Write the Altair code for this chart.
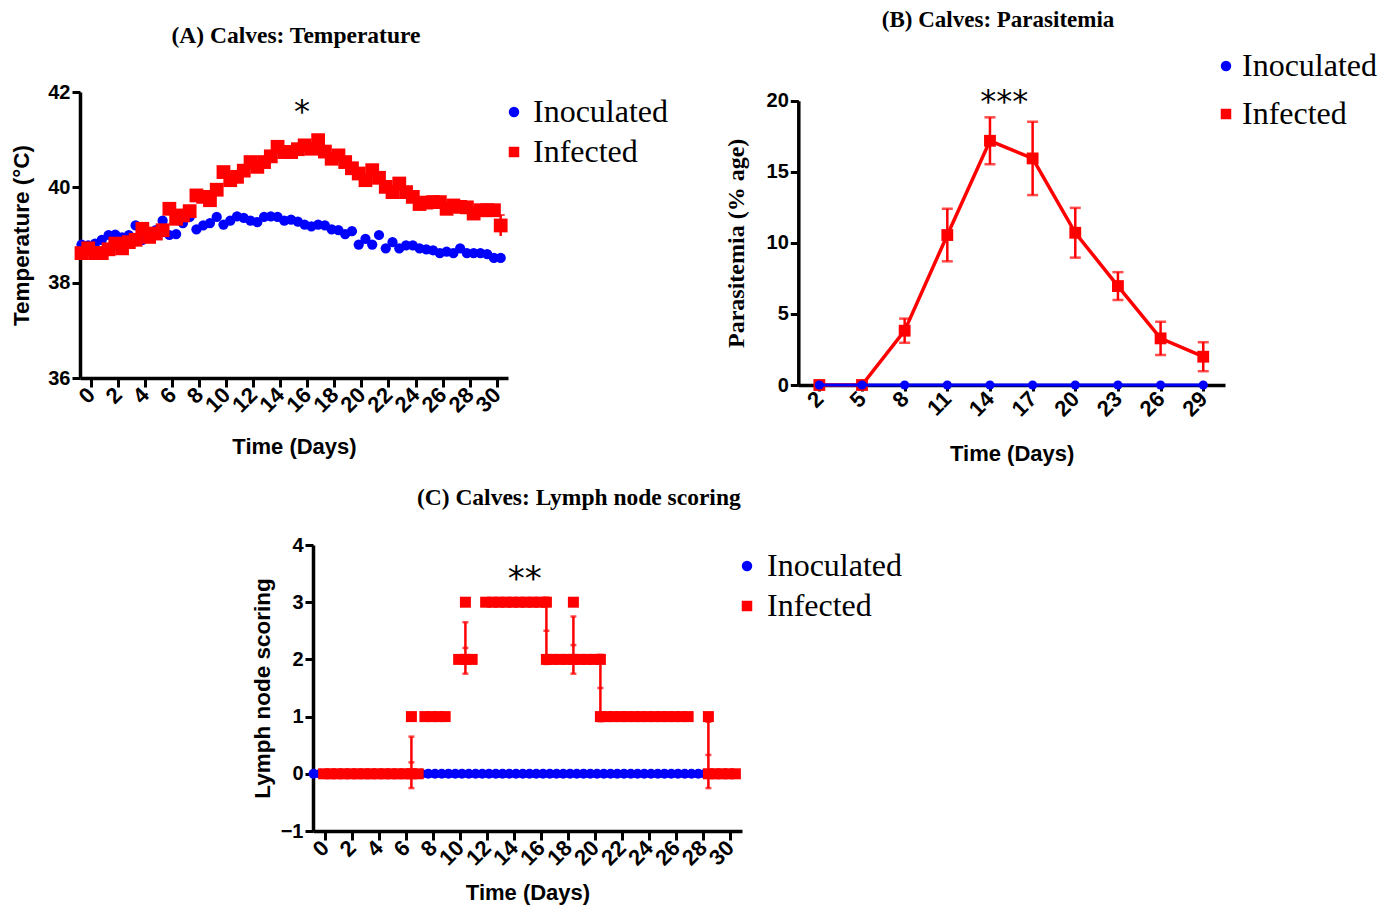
import altair as alt
import pandas as pd

# ---------------------------------------------------------------- data
GROUPS = ["Inoculated", "Infected"]
COLORS = ["#0000ff", "#ff0000"]
SHAPES = ["circle", "square"]

# (A) temperature, readings twice a day
DAYS_A = [-0.7, -0.2, 0.3, 0.8, 1.3, 1.8, 2.3, 2.8, 3.3, 3.8,
          4.3, 4.8, 5.3, 5.8, 6.3, 6.8, 7.3, 7.8, 8.3, 8.8,
          9.3, 9.8, 10.3, 10.8, 11.3, 11.8, 12.3, 12.8, 13.3, 13.8,
          14.3, 14.8, 15.3, 15.8, 16.3, 16.8, 17.3, 17.8, 18.3, 18.8,
          19.3, 19.8, 20.3, 20.8, 21.3, 21.8, 22.3, 22.8, 23.3, 23.8,
          24.3, 24.8, 25.3, 25.8, 26.3, 26.8, 27.3, 27.8, 28.3, 28.8,
          29.3, 29.8, 30.3]
TEMP_INOCULATED = [38.80, 38.78, 38.82, 38.90, 39.00, 39.01, 38.95, 39.00, 39.20, 38.90,
                   39.05, 39.10, 39.30, 39.00, 39.02, 39.25, 39.38, 39.12, 39.20, 39.25,
                   39.38, 39.22, 39.30, 39.39, 39.36, 39.30, 39.27, 39.38, 39.39, 39.38,
                   39.30, 39.32, 39.28, 39.22, 39.18, 39.22, 39.20, 39.12, 39.10, 39.02,
                   39.08, 38.80, 38.92, 38.80, 39.00, 38.72, 38.85, 38.72, 38.78, 38.78,
                   38.72, 38.70, 38.68, 38.62, 38.65, 38.62, 38.72, 38.62, 38.62, 38.62,
                   38.60, 38.52, 38.52]
TEMP_INFECTED = [38.62, 38.72, 38.62, 38.62, 38.70, 38.82, 38.72, 38.85, 38.90, 39.13,
                 38.96, 39.03, 39.10, 39.55, 39.34, 39.41, 39.50, 39.83, 39.80, 39.73,
                 39.95, 40.32, 40.15, 40.22, 40.35, 40.53, 40.43, 40.53, 40.65, 40.85,
                 40.74, 40.74, 40.80, 40.88, 40.81, 40.99, 40.75, 40.60, 40.67, 40.53,
                 40.40, 40.29, 40.15, 40.36, 40.20, 40.01, 39.90, 40.08, 39.90, 39.80,
                 39.65, 39.68, 39.69, 39.69, 39.55, 39.62, 39.59, 39.58, 39.45, 39.52,
                 39.52, 39.52, 39.20]
ERR_DAY_A = [30.3]
ERR_MEAN_A = [39.20]
ERR_SEM_A = [0.22]

# (B) parasitemia
DAYS_B = [2, 5, 8, 11, 14, 17, 20, 23, 26, 29]
PARA_INOCULATED = [0, 0, 0, 0, 0, 0, 0, 0, 0, 0]
PARA_INFECTED = [0, 0, 3.82, 10.55, 17.18, 15.94, 10.71, 6.96, 3.28, 1.99]
PARA_SEM = [0, 0, 0.85, 1.85, 1.65, 2.58, 1.75, 0.98, 1.17, 1.02]

# (C) lymph node scoring
DAYS_C_INOC = [-0.85, -0.35, 0.15, 0.65, 1.15, 1.65, 2.15, 2.65, 3.15, 3.65,
               4.15, 4.65, 5.15, 5.65, 6.15, 6.65, 7.15, 7.65, 8.15, 8.65,
               9.15, 9.65, 10.15, 10.65, 11.15, 11.65, 12.15, 12.65, 13.15, 13.65,
               14.15, 14.65, 15.15, 15.65, 16.15, 16.65, 17.15, 17.65, 18.15, 18.65,
               19.15, 19.65, 20.15, 20.65, 21.15, 21.65, 22.15, 22.65, 23.15, 23.65,
               24.15, 24.65, 25.15, 25.65, 26.15, 26.65, 27.15, 27.65, 28.15, 28.65,
               29.15, 29.65, 30.15]
SCORE_C_INOC = [0, 0, 0, 0, 0, 0, 0, 0, 0, 0,
                0, 0, 0, 0, 0, 0, 0, 0, 0, 0,
                0, 0, 0, 0, 0, 0, 0, 0, 0, 0,
                0, 0, 0, 0, 0, 0, 0, 0, 0, 0,
                0, 0, 0, 0, 0, 0, 0, 0, 0, 0,
                0, 0, 0, 0, 0, 0, 0, 0, 0, 0,
                0, 0, 0]
DAYS_C_INF = [-0.1, 0.4, 0.9, 1.4, 1.9, 2.4, 2.9, 3.4, 3.9, 4.4, 4.9, 5.4, 5.9, 6.4, 6.9,
              6.4, 7.4, 7.9, 8.4, 8.9,
              9.9, 10.4, 10.9,
              10.4, 11.9, 12.4, 12.9, 13.4, 13.9, 14.4, 14.9, 15.4, 15.9, 16.4,
              18.4,
              16.4, 16.9, 17.4, 17.9, 18.4, 18.9, 19.4, 19.9, 20.4,
              20.4, 20.9, 21.4, 21.9, 22.4, 22.9, 23.4, 23.9, 24.4, 24.9, 25.4, 25.9, 26.4, 26.9,
              28.4,
              28.4, 28.9, 29.4, 29.9, 30.4]
SCORE_C_INF = [0, 0, 0, 0, 0, 0, 0, 0, 0, 0, 0, 0, 0, 0, 0,
               1, 1, 1, 1, 1,
               2, 2, 2,
               3, 3, 3, 3, 3, 3, 3, 3, 3, 3, 3,
               3,
               2, 2, 2, 2, 2, 2, 2, 2, 2,
               1, 1, 1, 1, 1, 1, 1, 1, 1, 1, 1, 1, 1, 1,
               1,
               0, 0, 0, 0, 0]
ERR_DAY_C = [6.4, 10.4, 16.4, 18.4, 20.4, 28.4]
ERR_MEAN_C = [0.2, 2.2, 2.5, 2.25, 1.5, 0.33]
ERR_SD_C = [0.45, 0.45, 0.58, 0.5, 0.58, 0.58]

# ---------------------------------------------------------------- layout (canvas pixels)
W, H = 1375, 897
SANS = "Liberation Sans"
SERIF = "Liberation Serif"
STAR = "DejaVu Sans"

XD_A, XR_A, YD_A, YR_A = [-0.81, 30.84], [72, 500], [36, 42], [370, 84]
XD_B, XR_B, YD_B, YR_B = [0.52, 30.53], [790.3, 1217], [0, 20], [377, 92.7]
XD_C, XR_C, YD_C, YR_C = [-0.89, 30.89], [305, 734], [-1, 4], [823, 537]


def x_axis(offset, values, tick_size, label_size, title_pad):
    return alt.Axis(orient="bottom", offset=offset, values=values, title="Time (Days)",
                    grid=False, labelAngle=-45, labelAlign="right", labelBaseline="middle",
                    labelFont=SANS, labelFontWeight="bold", labelFontSize=label_size,
                    labelColor="black", labelPadding=4, labelFlush=False, labelOverlap=False,
                    tickSize=tick_size, tickWidth=3, tickColor="black",
                    domainColor="black", domainWidth=3.5,
                    titleFont=SANS, titleFontWeight="bold", titleFontSize=22,
                    titleColor="black", titlePadding=title_pad)


def y_axis(offset, values, title, font, size, label_size, pad):
    return alt.Axis(orient="left", offset=offset, values=values, title=title, grid=False,
                    labelFont=SANS, labelFontWeight="bold", labelFontSize=label_size,
                    labelColor="black", labelPadding=2, labelFlush=False, labelOverlap=False,
                    tickSize=8, tickWidth=3, tickColor="black",
                    domainColor="black", domainWidth=3.5,
                    titleFont=font, titleFontWeight="bold", titleFontSize=size,
                    titleColor="black", titlePadding=pad)


def legend(x, y, row_pad, label_offset):
    return alt.Legend(orient="none", legendX=x, legendY=y, title=None, padding=0,
                      labelFont=SERIF, labelFontSize=32, labelColor="black",
                      symbolSize=110, symbolStrokeWidth=0, rowPadding=row_pad,
                      labelOffset=label_offset)


def enc_color(leg):
    return alt.Color("group:N", scale=alt.Scale(domain=GROUPS, range=COLORS), legend=leg)


def enc_shape(leg):
    return alt.Shape("group:N", scale=alt.Scale(domain=GROUPS, range=SHAPES), legend=leg)


def sc(domain, rng):
    return alt.Scale(domain=domain, range=rng, nice=False, zero=False)


TITLE_SIZE = 23.5

# ---------------------------------------------------------------- panel A
axA_x = x_axis(370 - H, list(range(0, 31, 2)), 9, 22, 20)
axA_y = y_axis(-72, [36, 38, 40, 42], "Temperature (°C)", SANS, 22.5, 20, 14)
legA = legend(490, 88, 8, 3)

dfA = pd.DataFrame({
    "day": DAYS_A + DAYS_A,
    "value": TEMP_INOCULATED + TEMP_INFECTED,
    "group": [GROUPS[0]] * len(DAYS_A) + [GROUPS[1]] * len(DAYS_A),
})
dfA_err = pd.DataFrame({"day": ERR_DAY_A,
                        "lo": [m - s for m, s in zip(ERR_MEAN_A, ERR_SEM_A)],
                        "hi": [m + s for m, s in zip(ERR_MEAN_A, ERR_SEM_A)]})
dfA_txt = pd.DataFrame({"day": [15.16, 15.6], "value": [43.17, 41.37],
                        "text": ["(A) Calves: Temperature", "*"]})

xA = lambda f="day": alt.X(f"{f}:Q", scale=sc(XD_A, XR_A), axis=axA_x)
yA = lambda f="value": alt.Y(f"{f}:Q", scale=sc(YD_A, YR_A), axis=axA_y)

baseA = alt.Chart(dfA)
pointsA_blue = baseA.mark_point(filled=True, size=105, opacity=1).encode(
    x=xA(), y=yA(), color=enc_color(legA), shape=enc_shape(legA)
).transform_filter(alt.datum.group == GROUPS[0])
pointsA_red = baseA.mark_point(filled=True, size=190, opacity=1).encode(
    x=xA(), y=yA(), color=enc_color(legA), shape=enc_shape(legA)
).transform_filter(alt.datum.group == GROUPS[1])
errA_rule = alt.Chart(dfA_err).mark_rule(color="#ff0000", strokeWidth=2.5).encode(
    x=xA(), y=yA("lo"), y2="hi")
errA_cap = alt.Chart(dfA_err).mark_tick(color="#ff0000", orient="horizontal", size=8,
                                        thickness=2).encode(x=xA(), y=yA("hi"))
titleA = alt.Chart(dfA_txt.iloc[[0]]).mark_text(
    font=SERIF, fontWeight="bold", fontSize=TITLE_SIZE, color="black", baseline="middle"
).encode(x=xA(), y=yA(), text="text:N")
starA = alt.Chart(dfA_txt.iloc[[1]]).mark_text(
    font=STAR, fontSize=32, color="black", baseline="alphabetic"
).encode(x=xA(), y=yA(), text="text:N")

panelA = alt.layer(pointsA_blue, pointsA_red, errA_rule, errA_cap, titleA, starA)

# ---------------------------------------------------------------- panel B
axB_x = x_axis(377 - H, DAYS_B, 6, 22, 23)
axB_y = y_axis(-790.3, [0, 5, 10, 15, 20], "Parasitemia  (% age)", SERIF, 24, 20, 18)
legB = legend(1202, 42, 16, 0)

dfB = pd.DataFrame({
    "day": DAYS_B + DAYS_B,
    "value": PARA_INOCULATED + PARA_INFECTED,
    "group": [GROUPS[0]] * len(DAYS_B) + [GROUPS[1]] * len(DAYS_B),
})
dfB_err = pd.DataFrame({"day": DAYS_B,
                        "lo": [m - s for m, s in zip(PARA_INFECTED, PARA_SEM)],
                        "hi": [m + s for m, s in zip(PARA_INFECTED, PARA_SEM)]})
dfB_err = dfB_err[[s > 0 for s in PARA_SEM]]
dfB_txt = pd.DataFrame({"day": [14.57, 15.0], "value": [26.45, 19.2],
                        "text": ["(B) Calves: Parasitemia", "***"]})

xB = lambda f="day": alt.X(f"{f}:Q", scale=sc(XD_B, XR_B), axis=axB_x)
yB = lambda f="value": alt.Y(f"{f}:Q", scale=sc(YD_B, YR_B), axis=axB_y)

baseB = alt.Chart(dfB)
lineB_red = baseB.mark_line(color="#ff0000", strokeWidth=3.5).encode(
    x=xB(), y=yB()).transform_filter(alt.datum.group == GROUPS[1])
errB_rule = alt.Chart(dfB_err).mark_rule(color="#ff0000", strokeWidth=2.5).encode(
    x=xB(), y=yB("lo"), y2="hi")
errB_lo = alt.Chart(dfB_err).mark_tick(color="#ff0000", orient="horizontal", size=11,
                                       thickness=2.5).encode(x=xB(), y=yB("lo"))
errB_hi = alt.Chart(dfB_err).mark_tick(color="#ff0000", orient="horizontal", size=11,
                                       thickness=2.5).encode(x=xB(), y=yB("hi"))
pointsB_red = baseB.mark_point(filled=True, size=140, opacity=1).encode(
    x=xB(), y=yB(), color=enc_color(legB), shape=enc_shape(legB)
).transform_filter(alt.datum.group == GROUPS[1])
lineB_blue = baseB.mark_line(color="#0000ff", strokeWidth=3).encode(
    x=xB(), y=yB()).transform_filter(alt.datum.group == GROUPS[0])
pointsB_blue = baseB.mark_point(filled=True, size=85, opacity=1).encode(
    x=xB(), y=yB(), color=enc_color(legB), shape=enc_shape(legB)
).transform_filter(alt.datum.group == GROUPS[0])
titleB = alt.Chart(dfB_txt.iloc[[0]]).mark_text(
    font=SERIF, fontWeight="bold", fontSize=23, color="black", baseline="top"
).encode(x=xB(), y=yB(), text="text:N")
starB = alt.Chart(dfB_txt.iloc[[1]]).mark_text(
    font=STAR, fontSize=32, color="black", baseline="alphabetic"
).encode(x=xB(), y=yB(), text="text:N")

panelB = alt.layer(lineB_red, errB_rule, errB_lo, errB_hi, pointsB_red,
                   lineB_blue, pointsB_blue, titleB, starB)

# ---------------------------------------------------------------- panel C
axC_x = x_axis(823 - H, list(range(0, 31, 2)), 9, 22, 13)
axC_y = y_axis(-305, [-1, 0, 1, 2, 3, 4], "Lymph node scoring", SANS, 22.5, 20, 6)
legC = legend(723, 542, 8, 4)

dfC = pd.DataFrame({
    "day": DAYS_C_INOC + DAYS_C_INF,
    "value": SCORE_C_INOC + SCORE_C_INF,
    "group": [GROUPS[0]] * len(DAYS_C_INOC) + [GROUPS[1]] * len(DAYS_C_INF),
})
dfC_err = pd.DataFrame({"day": ERR_DAY_C, "value": ERR_MEAN_C,
                        "lo": [m - s for m, s in zip(ERR_MEAN_C, ERR_SD_C)],
                        "hi": [m + s for m, s in zip(ERR_MEAN_C, ERR_SD_C)]})
dfC_txt = pd.DataFrame({"day": [18.8, 14.8], "value": [4.82, 3.21],
                        "text": ["(C) Calves: Lymph node scoring", "**"]})

xC = lambda f="day": alt.X(f"{f}:Q", scale=sc(XD_C, XR_C), axis=axC_x)
yC = lambda f="value": alt.Y(f"{f}:Q", scale=sc(YD_C, YR_C), axis=axC_y)

baseC = alt.Chart(dfC)
pointsC_blue = baseC.mark_point(filled=True, size=100, opacity=1).encode(
    x=xC(), y=yC(), color=enc_color(legC), shape=enc_shape(legC)
).transform_filter(alt.datum.group == GROUPS[0])
pointsC_red = baseC.mark_point(filled=True, size=121, opacity=1).encode(
    x=xC(), y=yC(), color=enc_color(legC), shape=enc_shape(legC)
).transform_filter(alt.datum.group == GROUPS[1])
errC_rule = alt.Chart(dfC_err).mark_rule(color="#ff0000", strokeWidth=2.5).encode(
    x=xC(), y=yC("lo"), y2="hi")
errC_ticks = [
    alt.Chart(dfC_err).mark_tick(color="#ff0000", orient="horizontal", size=6,
                                 thickness=2.5).encode(x=xC(), y=yC(f))
    for f in ["lo", "value", "hi"]
]
titleC = alt.Chart(dfC_txt.iloc[[0]]).mark_text(
    font=SERIF, fontWeight="bold", fontSize=TITLE_SIZE, color="black", baseline="middle"
).encode(x=xC(), y=yC(), text="text:N")
starC = alt.Chart(dfC_txt.iloc[[1]]).mark_text(
    font=STAR, fontSize=34, color="black", baseline="alphabetic"
).encode(x=xC(), y=yC(), text="text:N")

panelC = alt.layer(pointsC_blue, pointsC_red, errC_rule, *errC_ticks, titleC, starC)

# ---------------------------------------------------------------- figure
chart = alt.layer(panelA, panelB, panelC).resolve_scale(
    x="independent", y="independent", color="independent", shape="independent"
).resolve_axis(
    x="independent", y="independent"
).resolve_legend(
    color="independent", shape="independent"
).properties(
    width=W, height=H, padding=0,
    autosize=alt.AutoSizeParams(type="none"),
    background="white",
).configure_view(stroke=None)

chart.save("out.html", embed_options={"renderer": "svg", "actions": False})
